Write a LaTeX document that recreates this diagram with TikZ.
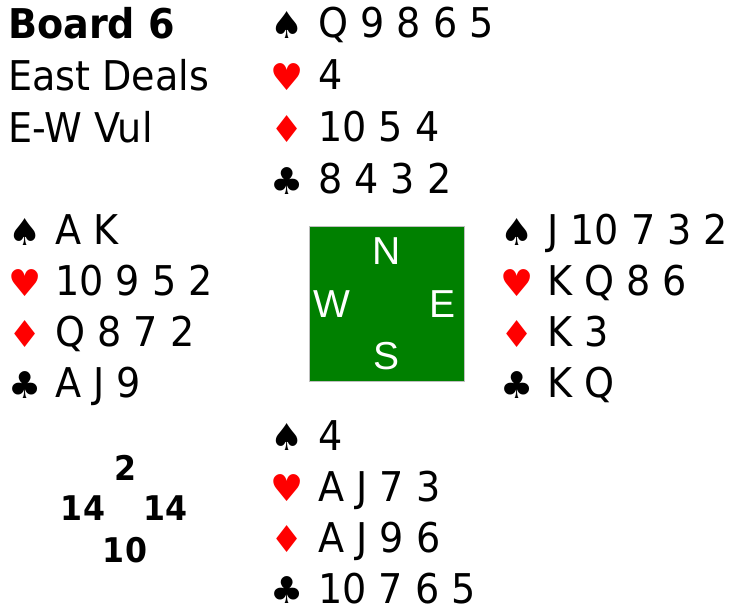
\documentclass[tikz,border=0pt]{standalone}
\usepackage{fontspec}
\setmainfont{DejaVu Sans}[FakeStretch=0.93]
\newfontfamily\suitfont{DejaVu Sans}
\newfontfamily\compassfont{Liberation Sans}
\usepackage{tikz}
\usetikzlibrary{positioning}
\definecolor{suitred}{RGB}{255,0,0}
\definecolor{feltgreen}{RGB}{0,128,0}
\tikzset{
  cards/.style={anchor=base west, inner sep=0pt, font=\fontsize{41}{49}\selectfont},
  blacksuit/.style={anchor=center, inner sep=0pt, font=\suitfont\fontsize{37}{44}\selectfont},
  redsuit/.style={blacksuit, text=suitred},
  info/.style={anchor=base west, inner sep=0pt, font=\fontsize{41}{49}\selectfont},
  hcp/.style={anchor=base, inner sep=0pt, font=\bfseries\fontsize{34}{40}\selectfont},
  tablebox/.style={draw=black!25, line width=1pt, fill=feltgreen, minimum width=155pt, minimum height=155pt, inner sep=0pt},
  compass/.style={anchor=base, inner sep=0pt, text=white, font=\compassfont\fontsize{39}{46}\selectfont}
}

\begin{document}
\begin{tikzpicture}[x=1pt, y=-1pt]
  \useasboundingbox (0,0) rectangle (739,609);
  % board information
  \node[info, font=\bfseries\fontsize{41}{49}\selectfont] (board) at (8,39) {Board 6};
  \node[info] (dealer) at (8,91) {East Deals};
  \node[info] (vul) at (8,143) {E-W Vul};
  % north
  \node[blacksuit] (nsp) at (287,25) {♠};
  \node[redsuit] (nhe) at (287,77) {♥};
  \node[redsuit] (ndi) at (287,129) {♦};
  \node[blacksuit] (ncl) at (287,181) {♣};
  \node[cards] (nspc) at (318,38) {Q 9 8 6 5};
  \node[cards] (nhec) at (318,90) {4};
  \node[cards] (ndic) at (318,142) {10 5 4};
  \node[cards] (nclc) at (318,194) {8 4 3 2};
  % west
  \node[blacksuit] (wsp) at (25,232) {♠};
  \node[redsuit] (whe) at (25,283) {♥};
  \node[redsuit] (wdi) at (25,334) {♦};
  \node[blacksuit] (wcl) at (25,385) {♣};
  \node[cards] (wspc) at (55,245) {A K};
  \node[cards] (whec) at (55,296) {10 9 5 2};
  \node[cards] (wdic) at (55,347) {Q 8 7 2};
  \node[cards] (wclc) at (55,398) {A J 9};
  % east
  \node[blacksuit] (esp) at (517,232) {♠};
  \node[redsuit] (ehe) at (517,283) {♥};
  \node[redsuit] (edi) at (517,334) {♦};
  \node[blacksuit] (ecl) at (517,385) {♣};
  \node[cards] (espc) at (547,245) {J 10 7 3 2};
  \node[cards] (ehec) at (547,296) {K Q 8 6};
  \node[cards] (edic) at (547,347) {K 3};
  \node[cards] (eclc) at (547,398) {K Q};
  % south
  \node[blacksuit] (ssp) at (287,437) {♠};
  \node[redsuit] (she) at (287,488) {♥};
  \node[redsuit] (sdi) at (287,539) {♦};
  \node[blacksuit] (scl) at (287,590) {♣};
  \node[cards] (sspc) at (318,450) {4};
  \node[cards] (shec) at (318,501) {A J 7 3};
  \node[cards] (sdic) at (318,552) {A J 9 6};
  \node[cards] (sclc) at (318,603) {10 7 6 5};
  % table
  \node[tablebox] (table) at (386.5,304.5) {};
  \node[compass] (north) at (386.5,265) {N};
  \node[compass] (west) at (332,318) {W};
  \node[compass] (east) at (442.5,318) {E};
  \node[compass] (south) at (387,370) {S};
  % points
  \node[hcp] (hcpn) at (125,480) {2};
  \node[hcp] (hcpw) at (83,520) {14};
  \node[hcp] (hcpe) at (165,520) {14};
  \node[hcp] (hcps) at (125,562) {10};
\end{tikzpicture}
\end{document}
